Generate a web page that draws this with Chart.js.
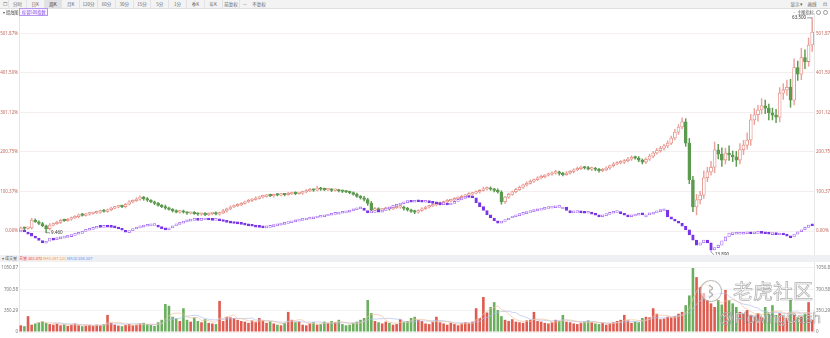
<!DOCTYPE html>
<html lang="zh">
<head>
<meta charset="utf-8">
<title>周K 对比走势</title>
<script src="https://cdn.jsdelivr.net/npm/chart.js@4.4.1/dist/chart.umd.min.js"></script>
<style>
  body { margin: 0; width: 830px; height: 338px; overflow: hidden; background: #fff;
         font-family: "Noto Sans CJK SC", "Noto Sans", sans-serif; position: relative; }
  #toolbar { position: absolute; left: 0; top: 0; width: 830px; height: 8px; background: #f3f3f4;
             border-bottom: 1px solid #e0e0e2; z-index: 3; }
  #toolbar span { position: absolute; top: 0; height: 8px; line-height: 8px; font-size: 4.5px; color: #666;
                  text-align: center; border-right: 1px solid #e3e3e5; box-sizing: border-box; }
  #toolbar span.on { background: #e1e1e4; color: #333; }
  .row2 { position: absolute; top: 9px; height: 6px; line-height: 6px; font-size: 4.2px; color: #555; z-index: 3; white-space: nowrap; }
  .tag { border: 0.5px solid #b995f2; color: #8a4de6; background: #f8f3ff; padding: 0 1.5px; }
  .dot { display: inline-block; width: 3px; height: 3px; border: 0.6px solid #999; border-radius: 50%; margin-left: 2px; vertical-align: middle; }
  #main { position: absolute; left: 0; top: 13px; }
  #volHead { position: absolute; left: 0; top: 255px; width: 830px; height: 7px; background: #eff0f3;
             z-index: 3; font-size: 4px; line-height: 7px; white-space: nowrap; }
  #volHead span { position: absolute; top: 1px; height: 5px; line-height: 5px; }
  #vol { position: absolute; left: 0; top: 262px; }
  .wm { position: absolute; z-index: 4; color: rgba(255,255,255,0.82); -webkit-text-stroke: 0.7px rgba(90,90,90,0.5);
        white-space: nowrap; line-height: 1; }
  #logo { position: absolute; z-index: 4; left: 700px; top: 280px; width: 20px; height: 20px; border-radius: 50%;
          border: 1.5px solid rgba(120,120,120,0.45); background: rgba(255,255,255,0.55);
          font-size: 13px; line-height: 20px; text-align: center; color: rgba(255,255,255,0.9);
          -webkit-text-stroke: 0.6px rgba(90,90,90,0.5); }
</style>
</head>
<body>
<div id="toolbar"></div>
<div class="row2" style="left:3px">▾ 蜡烛图 <span class="tag">标普500指数</span></div>
<div class="row2" style="left:792px">· 主图指标<span class="dot"></span><span class="dot"></span><span class="dot"></span><span class="dot"></span></div>
<canvas id="main" width="830" height="243"></canvas>
<div id="volHead">
  <span style="left:2px;color:#555">▾ 成交量</span>
  <span style="left:18px;color:#d9534f;background:#fbe9e8;padding:0 1px">总量 203.472</span>
  <span style="left:42px;color:#d99a6c;background:#fbf1e8;padding:0 1px">MA5 287.121</span>
  <span style="left:66px;color:#6f8fe0;background:#ecf0fb;padding:0 1px">MA10 288.307</span>
</div>
<canvas id="vol" width="830" height="76"></canvas>
<div id="logo">⌇</div>
<div class="wm" style="left:733px;top:281px;font-size:20px">老虎社区</div>
<div class="wm" style="left:719px;top:310px;font-size:15px;font-family:'Liberation Sans'">@FlowingCash</div>

<script>
// 主图：收盘涨跌幅（%），开盘取前一根收盘
const closes = [
  7.6, 6.5, 8.0, 28.0, 23.5, 19.0, 13.0, 5.5, 15.0, 18.5,
  22, 27.5, 26, 30, 33.5, 36, 41, 39.5, 43, 44.5,
  46, 48, 51, 49.5, 54, 58, 60.5, 63, 61.5, 68,
  74, 77, 80.5, 86, 82, 78, 74, 70, 65, 62,
  58, 55, 51, 48, 50, 47.5, 45, 46, 44, 42.5,
  43.5, 41, 44, 45.5, 43, 46, 51, 56, 61, 64,
  66.5, 70, 74, 77.5, 80, 83, 86.5, 88, 91, 89,
  92, 91, 93.5, 92, 94, 96.5, 95, 96, 99, 102,
  105, 103.5, 109, 106, 104.5, 105.5, 103, 104, 101.5, 100.5,
  99, 97.5, 93, 88, 84, 80, 70, 53, 57, 53,
  55, 57.5, 56, 59, 60.5, 61, 57, 53.5, 50, 48,
  52, 56.5, 61, 63.5, 66, 68.5, 71, 74, 76.5, 79,
  82, 84.5, 88, 91, 93.5, 96, 99, 103, 106.5, 109,
  106, 103, 99, 74, 86, 93, 99.5, 105, 111, 117,
  121, 126.5, 130, 135, 138, 141.5, 144, 147, 150, 146,
  143, 147, 151.5, 155, 158.5, 162, 160, 157, 159.5, 156,
  153, 155, 160, 165.5, 170, 173, 175, 178.5, 182, 187,
  185, 180, 175, 182, 190, 198, 204, 210, 216, 223,
  236, 251, 264, 277, 223, 130, 61, 79, 91, 135,
  150, 162, 206, 195, 180, 198, 193, 188, 180, 206,
  218, 231, 282, 295, 307, 318, 312, 300, 294, 289,
  350, 358, 365, 332, 415, 398, 440, 430, 472, 505
];
const hiWick = [
  3, 2, 2, 4, 3, 2, 3, 2, 4, 2,
  3, 2, 3, 2, 2, 3, 2, 4, 2, 3,
  2, 3, 2, 4, 2, 3, 2, 2, 3, 2,
  3, 2, 4, 3, 2, 3, 2, 2, 3, 2,
  4, 3, 2, 3, 2, 3, 2, 2, 3, 2,
  2, 3, 2, 2, 3, 2, 4, 2, 3, 2,
  3, 2, 2, 3, 2, 4, 2, 3, 2, 3,
  2, 3, 2, 2, 4, 2, 3, 2, 2, 3,
  3, 2, 5, 2, 3, 2, 2, 3, 2, 2,
  3, 2, 2, 3, 2, 4, 3, 5, 3, 2,
  2, 3, 2, 3, 2, 4, 2, 3, 2, 3,
  2, 3, 2, 2, 3, 2, 3, 2, 4, 2,
  3, 2, 3, 2, 4, 2, 3, 2, 5, 3,
  3, 2, 4, 3, 2, 3, 2, 4, 3, 2,
  4, 3, 2, 3, 4, 2, 3, 3, 4, 2,
  3, 4, 2, 3, 4, 3, 2, 4, 3, 2,
  3, 4, 3, 2, 4, 3, 4, 3, 5, 4,
  3, 4, 3, 4, 5, 4, 6, 5, 4, 6,
  5, 7, 6, 10, 8, 12, 9, 14, 10, 18,
  12, 15, 20, 14, 16, 12, 18, 10, 14, 16,
  12, 18, 14, 16, 12, 18, 14, 10, 12, 15,
  14, 16, 18, 20, 22, 16, 24, 20, 18, 36
];
const loWick = [
  2, 3, 2, 3, 2, 3, 2, 10, 3, 2,
  2, 3, 2, 2, 3, 2, 3, 2, 2, 3,
  2, 2, 3, 2, 2, 3, 2, 2, 2, 3,
  2, 3, 2, 3, 4, 3, 2, 3, 2, 3,
  3, 2, 3, 2, 3, 2, 3, 2, 2, 3,
  3, 2, 2, 3, 2, 3, 2, 3, 2, 2,
  2, 3, 2, 2, 3, 2, 2, 3, 2, 2,
  3, 2, 2, 3, 2, 2, 3, 2, 3, 2,
  2, 3, 2, 3, 2, 2, 3, 2, 2, 3,
  2, 3, 2, 3, 3, 4, 5, 6, 3, 4,
  3, 2, 3, 2, 2, 3, 4, 3, 3, 4,
  3, 2, 2, 3, 2, 2, 3, 2, 2, 3,
  2, 3, 2, 2, 3, 2, 2, 3, 2, 3,
  3, 4, 3, 6, 4, 3, 2, 3, 2, 3,
  3, 2, 3, 2, 3, 3, 2, 3, 3, 4,
  3, 2, 3, 4, 2, 3, 3, 2, 4, 3,
  4, 3, 2, 4, 3, 2, 3, 4, 3, 3,
  3, 4, 5, 4, 3, 4, 3, 4, 5, 4,
  4, 5, 6, 5, 8, 10, 12, 20, 10, 8,
  10, 8, 14, 12, 16, 10, 14, 12, 16, 10,
  12, 10, 14, 12, 16, 10, 14, 18, 12, 14,
  12, 16, 14, 18, 12, 16, 14, 18, 12, 16
];
// 对比标的涨跌幅（%）
const cmpCloses = [
  0, -3, -6, -13, -18, -24, -30, -26, -18, -20,
  -17, -15, -13, -11, -9, -6, -3, -1, 2, 4,
  7, 10, 9, 11, 10, 9, 8, 5, 2, -3,
  1, 5, 8, 10, 12, 13, 14, 15, 10, 6,
  3, 8, 13, 17, 20, 23, 25, 27, 28, 27,
  28, 29, 28, 27, 28, 26, 24, 22, 20, 19,
  18, 17, 15, 13, 12, 10, 9, 8, 9, 11,
  13, 15, 17, 19, 21, 23, 25, 27, 28, 30,
  31, 33, 35, 36, 38, 40, 42, 43, 45, 46,
  48, 51, 54, 56, 58, 52, 46, 47, 49, 48,
  52, 56, 60, 63, 66, 69, 72, 74, 73, 75,
  74, 73, 74, 72, 70, 69, 67, 68, 66, 70,
  75, 79, 83, 86, 85, 84, 72, 62, 52, 41,
  33, 26, 20, 24, 28, 33, 36, 39, 42, 44,
  47, 49, 51, 53, 55, 57, 58, 59, 60, 61,
  61, 52, 46, 47, 48, 46, 45, 46, 43, 40,
  36, 39, 42, 45, 47, 48, 44, 40, 36, 38,
  40, 42, 41, 41, 43, 46, 49, 51, 53, 36,
  30, 25, 20, 12, 3, -10, -23, -36, -30, -23,
  -30, -48, -42, -36, -25, -15, -5, -4, -3, -3,
  -3, -2, -3, -2, -1, -2, -3, -4, -4, -5,
  -5, -8, -12, -15, -8, -2, 3, 9, 15, 13
];
// 成交量
const volumes = [
  110, 95, 260, 120, 140, 160, 175, 150, 130, 120,
  135, 110, 125, 100, 120, 140, 110, 95, 105, 115,
  100, 120, 110, 130, 280, 150, 120, 105, 95, 115,
  130, 110, 120, 140, 150, 125, 115, 100, 160, 200,
  460, 430, 250, 220, 180, 390, 200, 170, 240, 180,
  160, 210, 150, 140, 130, 510, 180, 250, 240, 230,
  200, 180, 170, 150, 190, 160, 230, 190, 150, 175,
  140, 120, 110, 150, 330, 200, 160, 170, 120, 110,
  140, 160, 120, 130, 170, 150, 180, 160, 200, 130,
  110, 120, 150, 170, 200, 230, 525, 310, 180, 160,
  140, 170, 150, 120, 130, 210, 170, 180, 230, 250,
  200, 180, 140, 130, 170, 250, 160, 140, 120, 150,
  130, 110, 140, 160, 150, 170, 390, 230, 575, 320,
  410, 490, 360, 260, 200, 180, 210, 170, 160, 150,
  190, 200, 330, 180, 170, 150, 140, 160, 200, 180,
  280, 170, 160, 140, 130, 150, 170, 190, 160, 140,
  130, 150, 120, 140, 160, 180, 200, 280, 190, 150,
  170, 160, 230, 250, 240, 390, 300, 210, 220, 250,
  240, 260, 300, 330, 440, 600, 1050, 900, 740, 640,
  525, 470, 410, 525, 450, 690, 525, 470, 410, 330,
  300, 360, 280, 250, 310, 240, 410, 300, 440, 280,
  310, 260, 230, 525, 280, 240, 250, 300, 490, 200
];
const pctTicks = [0, 100.37, 200.75, 301.12, 401.5, 501.87];
const volTicks = [0, 350.29, 700.58, 1050.87];
const dateIdx = [4, 47, 90, 133, 177];
const dateText = ['2019/01', '2019/11', '2020/09', '2021/07', '2022/05'];
const maxText = '63.500';
const minText = '9.460';
const cmpMinText = '13.890';
const cmpLow = { idx: 191, value: -53 };

const UP = '#e3837a', UP_WICK = '#eaa39c', DOWN = '#5c9a4e';
const CMP_UP = '#a36af2', CMP_DOWN = '#7a34e6';
const VOL_UP = '#df5b4f', VOL_DOWN = '#6aae5e';

// 工具栏
const tabs = ['分时', '日K', '周K', '月K', '120分', '60分', '30分', '15分', '5分', '1分', '季K', '年K', '前复权'];
const bar = document.getElementById('toolbar');
bar.innerHTML = '<span style="left:1px;width:8px">☐</span>' +
  tabs.map((t, i) => `<span class="${i === 2 ? 'on' : ''}" style="left:${9 + i * 17.8}px;width:17.8px">${t}</span>`).join('') +
  '<span style="left:241px;width:8px;border:none">—</span><span style="left:250px;width:18px;border:none">不复权</span>' +
  '<span style="left:790px;width:14px;border:none">显示 ▾</span><span style="left:806px;width:12px;border:none">画线</span>' +
  '<span style="left:821px;width:8px;border:none">⊡</span>';

const idx = closes.map((_, i) => i);
const opens = closes.map((c, i) => (i === 0 ? 0 : closes[i - 1]));
const isUp = closes.map((c, i) => c >= opens[i]);
const highs = closes.map((c, i) => Math.max(c, opens[i]) + hiWick[i]);
const lows = closes.map((c, i) => Math.min(c, opens[i]) - loWick[i]);
const cmpOpens = cmpCloses.map((c, i) => (i === 0 ? 0 : cmpCloses[i - 1]));
const cmpUp = cmpCloses.map((c, i) => c >= cmpOpens[i]);

function movingAvg(arr, n) {
  return arr.map((_, i) => (i < n - 1 ? null : arr.slice(i - n + 1, i + 1).reduce((a, b) => a + b, 0) / n));
}

const axisFont = { size: 4.5, family: 'Noto Sans' };
function fixWidth(w) {
  return s => { s.width = w; s.paddingTop = 0; s.paddingBottom = 0; };
}

// 最高/最低价标注
const markers = {
  id: 'markers',
  afterDatasetsDraw(chart) {
    const { ctx, scales: { x, y } } = chart;
    ctx.save();
    ctx.font = '4.5px "Noto Sans"';
    ctx.lineWidth = 0.6;
    ctx.strokeStyle = '#555';
    ctx.fillStyle = '#333';
    ctx.textBaseline = 'middle';

    const iMax = highs.indexOf(Math.max(...highs));
    let px = x.getPixelForValue(iMax), py = y.getPixelForValue(highs[iMax]);
    ctx.beginPath(); ctx.moveTo(px - 5, py); ctx.lineTo(px, py); ctx.stroke();
    ctx.textAlign = 'right';
    ctx.fillText(maxText, px - 6, py);

    const iMin = lows.indexOf(Math.min(...lows));
    px = x.getPixelForValue(iMin); py = y.getPixelForValue(lows[iMin]);
    ctx.beginPath(); ctx.moveTo(px, py); ctx.lineTo(px + 4, py); ctx.stroke();
    ctx.textAlign = 'left';
    ctx.fillText(minText, px + 5, py);

    // 对比标的最低点
    px = x.getPixelForValue(cmpLow.idx);
    const top = y.getPixelForValue(Math.min(cmpOpens[cmpLow.idx], cmpCloses[cmpLow.idx]));
    py = y.getPixelForValue(cmpLow.value);
    ctx.strokeStyle = CMP_DOWN;
    ctx.beginPath(); ctx.moveTo(px, top); ctx.lineTo(px, py); ctx.stroke();
    ctx.strokeStyle = '#555';
    ctx.beginPath(); ctx.moveTo(px, py); ctx.lineTo(px + 3, py + 3); ctx.stroke();
    ctx.fillText(cmpMinText, px + 4, py + 3);
    ctx.restore();
  }
};

new Chart(document.getElementById('main'), {
  type: 'bar',
  data: {
    labels: idx,
    datasets: [
      {
        label: '对比',
        data: cmpCloses.map((c, i) => [cmpOpens[i], c]),
        backgroundColor: ctx => (cmpUp[ctx.dataIndex] ? '#ffffff' : CMP_DOWN),
        borderColor: ctx => (cmpUp[ctx.dataIndex] ? CMP_UP : CMP_DOWN),
        borderWidth: 0.8, borderSkipped: false, barThickness: 2.6, minBarLength: 2,
        grouped: false, order: 1
      },
      {
        label: 'K线',
        data: closes.map((c, i) => [opens[i], c]),
        backgroundColor: ctx => (isUp[ctx.dataIndex] ? '#ffffff' : DOWN),
        borderColor: ctx => (isUp[ctx.dataIndex] ? UP : DOWN),
        borderWidth: 0.8, borderSkipped: false, barThickness: 3, minBarLength: 1.5,
        grouped: false, order: 2
      },
      {
        label: '影线',
        data: highs.map((h, i) => [lows[i], h]),
        backgroundColor: ctx => (isUp[ctx.dataIndex] ? UP_WICK : DOWN),
        borderWidth: 0, barThickness: 0.8, grouped: false, order: 3
      }
    ]
  },
  options: {
    responsive: false,
    animation: false,
    layout: { padding: 0 },
    plugins: { legend: { display: false }, tooltip: { enabled: false } },
    scales: {
      x: { display: false, offset: true, grid: { display: false } },
      y: {
        position: 'left', min: -63.45, max: 553.3, afterFit: fixWidth(19),
        afterBuildTicks: s => { s.ticks = pctTicks.map(v => ({ value: v })); },
        ticks: { font: axisFont, color: '#c2675c', padding: 1, callback: v => v.toFixed(2) + '%' },
        grid: { color: '#f5eeee', drawTicks: false },
        border: { display: true, color: '#e6e6e6' }
      },
      y2: {
        position: 'right', min: -63.45, max: 553.3, afterFit: fixWidth(16),
        afterBuildTicks: s => { s.ticks = pctTicks.map(v => ({ value: v })); },
        ticks: { font: axisFont, color: '#c2675c', padding: 2, callback: v => v.toFixed(2) + '%' },
        grid: { display: false, drawTicks: false },
        border: { display: true, color: '#e6e6e6' }
      }
    }
  },
  plugins: [markers]
});

new Chart(document.getElementById('vol'), {
  type: 'bar',
  data: {
    labels: idx,
    datasets: [
      { type: 'line', data: movingAvg(volumes, 5), borderColor: '#f0c39f', borderWidth: 0.7, pointRadius: 0, order: 0 },
      { type: 'line', data: movingAvg(volumes, 10), borderColor: '#b3c0ee', borderWidth: 0.7, pointRadius: 0, order: 0 },
      {
        data: volumes,
        backgroundColor: ctx => (isUp[ctx.dataIndex] ? VOL_UP : VOL_DOWN),
        barPercentage: 0.72, categoryPercentage: 1, order: 1
      }
    ]
  },
  options: {
    responsive: false,
    animation: false,
    layout: { padding: 0 },
    plugins: { legend: { display: false }, tooltip: { enabled: false } },
    scales: {
      x: {
        offset: true,
        afterFit: s => { s.height = 6; s.paddingLeft = 0; s.paddingRight = 0; },
        afterBuildTicks: s => { s.ticks = dateIdx.map(v => ({ value: v })); },
        ticks: { font: { size: 4.5, family: 'Noto Sans' }, color: '#888', padding: 0, maxRotation: 0, autoSkip: false,
                 callback: v => dateText[dateIdx.indexOf(v)] },
        grid: { display: false }, border: { display: false }
      },
      y: {
        position: 'left', min: 0, max: 1149, afterFit: fixWidth(19),
        afterBuildTicks: s => { s.ticks = volTicks.map(v => ({ value: v })); },
        ticks: { font: axisFont, color: '#777', padding: 1, callback: v => (v === 0 ? '0' : v.toFixed(2)) },
        grid: { color: '#f2f2f2', drawTicks: false },
        border: { display: true, color: '#e6e6e6' }
      },
      y2: {
        position: 'right', min: 0, max: 1149, afterFit: fixWidth(16),
        afterBuildTicks: s => { s.ticks = volTicks.map(v => ({ value: v })); },
        ticks: { font: axisFont, color: '#777', padding: 2, callback: v => (v === 0 ? '0' : v.toFixed(2)) },
        grid: { display: false, drawTicks: false },
        border: { display: true, color: '#e6e6e6' }
      }
    }
  }
});
</script>
</body>
</html>
